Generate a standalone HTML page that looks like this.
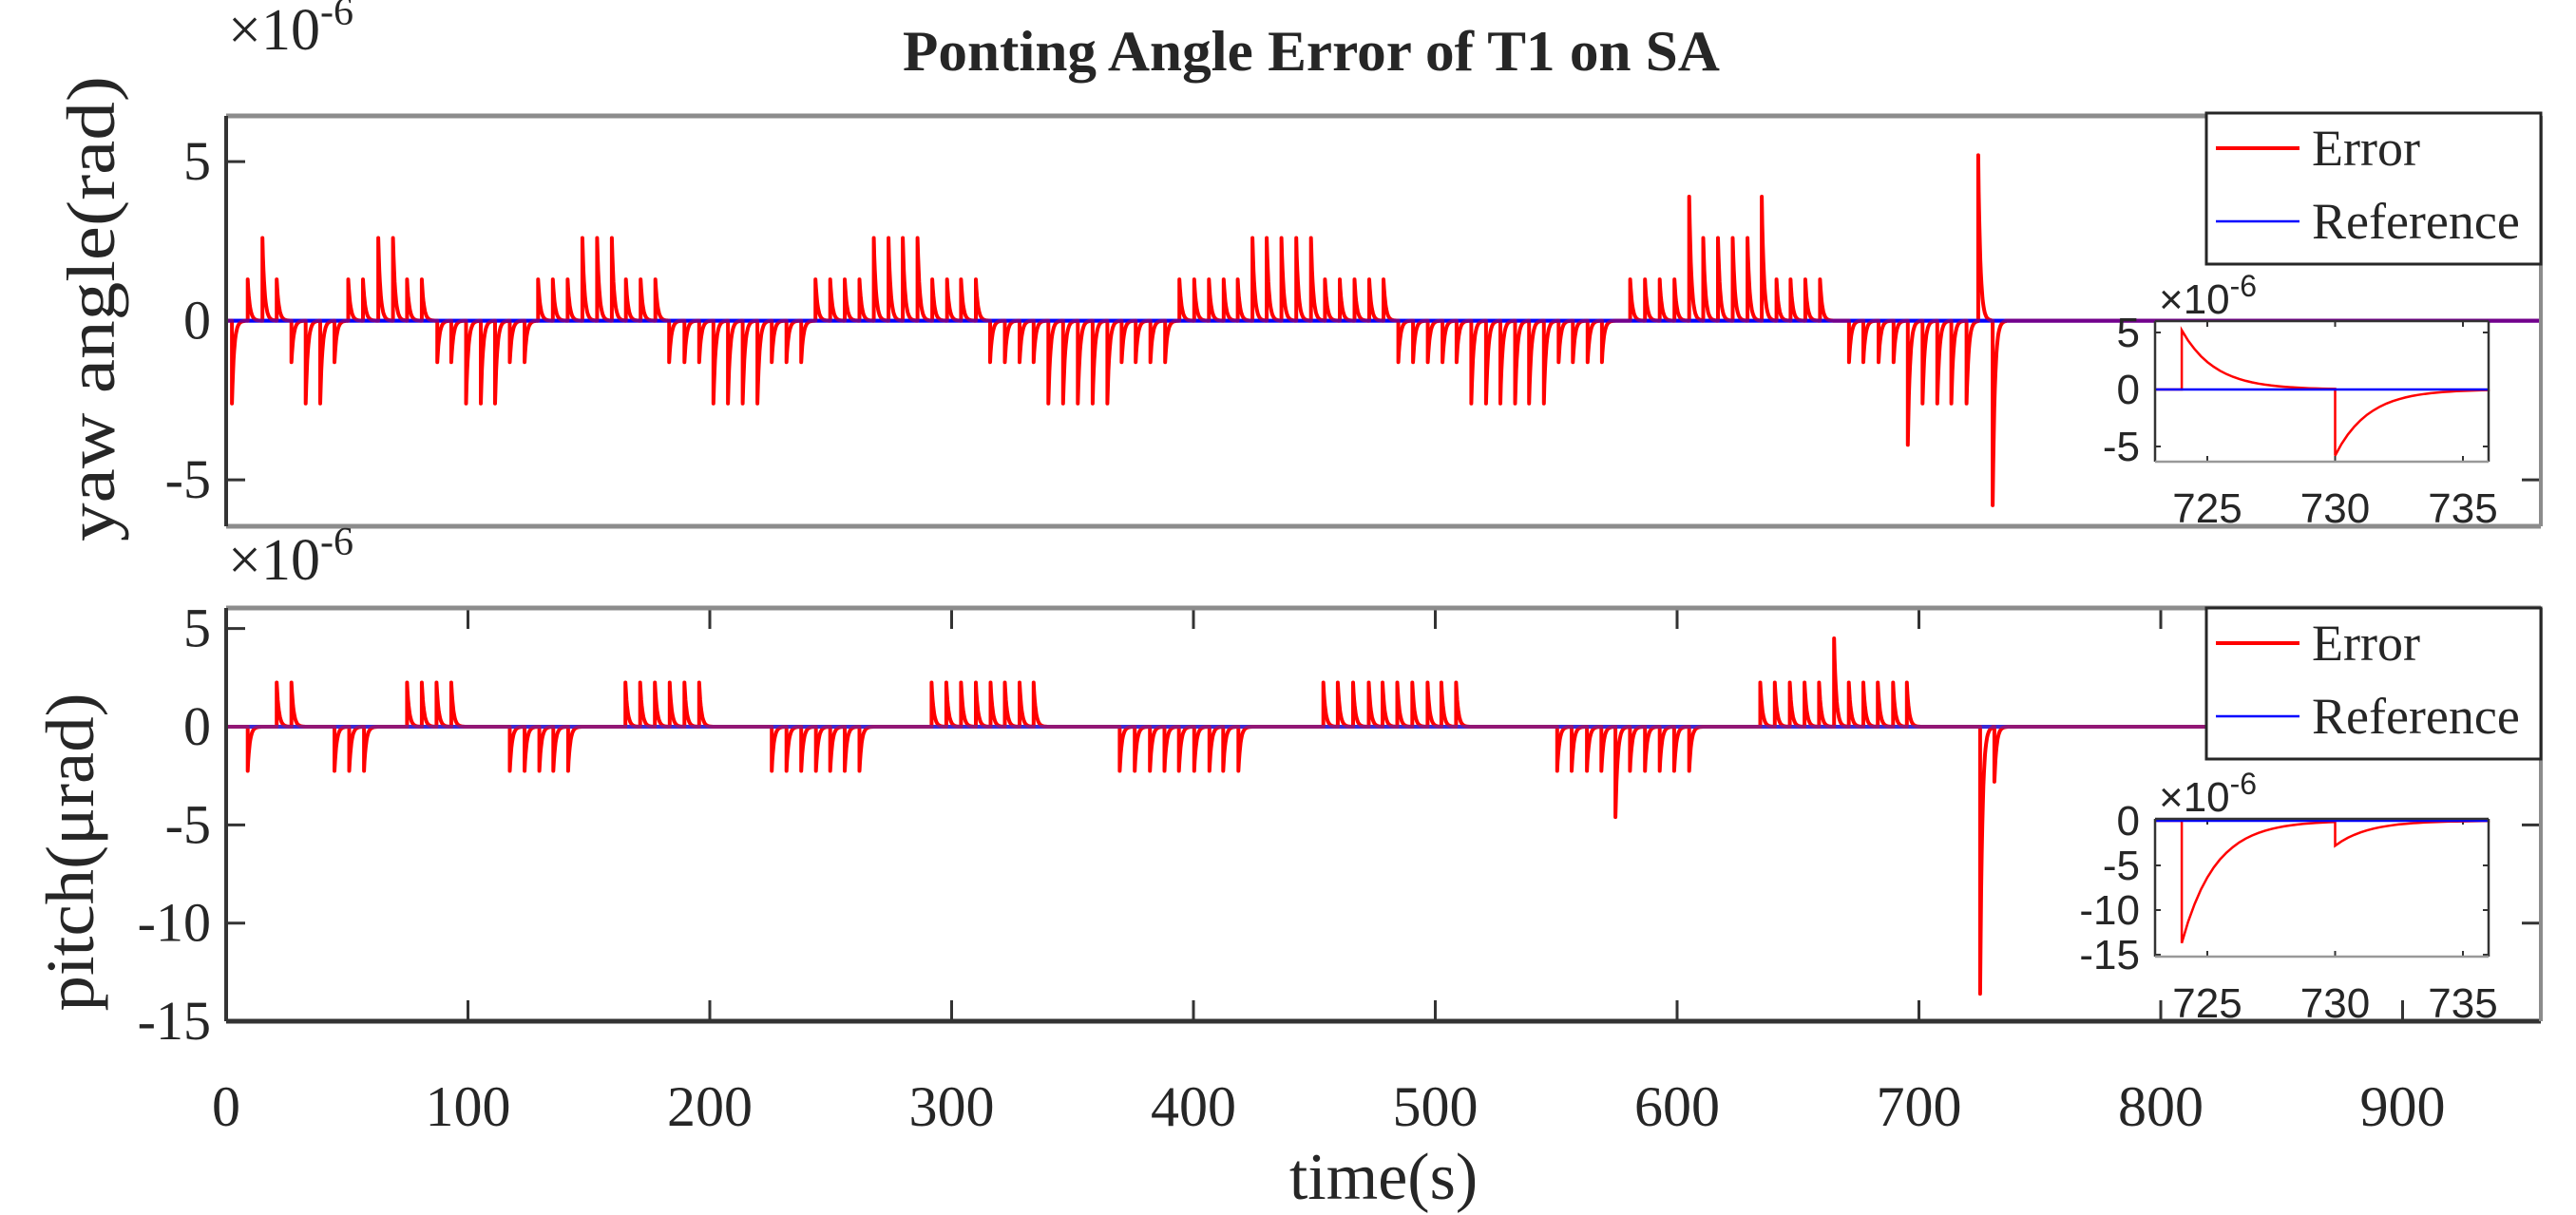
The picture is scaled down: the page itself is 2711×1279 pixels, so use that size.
<!DOCTYPE html>
<html><head><meta charset="utf-8"><style>
html,body{margin:0;padding:0;background:#fff;}
svg{display:block;}
text{font-family:"Liberation Serif",serif;fill:#262626;}
.sans{font-family:"Liberation Sans",sans-serif;}
</style></head><body>
<svg id="chart" width="2711" height="1279" viewBox="0 0 2711 1279" xmlns="http://www.w3.org/2000/svg">
<rect x="0" y="0" width="2711" height="1279" fill="#fff"/>
<text x="1380" y="74" text-anchor="middle" font-size="60" font-weight="bold" fill="#000" textLength="860" lengthAdjust="spacingAndGlyphs">Ponting Angle Error of T1 on SA</text>
<g id="layer"></g>
</svg>
<script>
// ---------- data ----------
const xTicks = [0,100,200,300,400,500,600,700,800,900];
const yawTicks = [-5,0,5];
const pitchTicks = [-15,-10,-5,0,5];
const insetXTicks = [725,730,735];
const insetYawTicks = [-5,0,5];
const insetPitchTicks = [-15,-10,-5,0];

const yawT = [2.4,8.9,15.0,20.9,27.0,32.9,38.9,44.8,50.5,56.6,62.9,69.0,74.8,80.9,87.3,93.1,99.2,105.3,111.2,117.3,123.4,
129.0,135.1,141.2,147.3,153.4,159.5,165.3,171.4,177.5,183.2,189.5,195.6,201.5,207.5,213.6,219.7,225.6,231.7,237.8,
243.7,249.8,255.8,261.9,267.8,273.9,279.8,285.9,292.0,298.1,303.9,310.0,315.9,322.0,328.1,333.9,340.0,346.1,352.2,358.3,364.4,370.3,376.1,382.2,388.3,
394.2,400.3,406.4,412.5,418.3,424.4,430.3,436.4,442.5,448.6,454.4,460.5,466.6,472.7,478.6,
484.7,490.8,496.9,503.0,508.8,514.9,521.0,526.9,533.0,538.8,544.9,551.0,556.9,563.0,568.9,
580.6,586.7,592.8,598.9,605.0,610.8,616.9,623.0,629.1,635.0,641.1,646.9,653.0,659.1,
671.1,677.0,683.3,689.5,695.4,701.5,707.6,713.4,719.7,724.5,730.5];
const yawA = [-2.6,1.3,2.6,1.3,-1.3,-2.6,-2.6,-1.3,1.3,1.3,2.6,2.6,1.3,1.3,-1.3,-1.3,-2.6,-2.6,-2.6,-1.3,-1.3,
1.3,1.3,1.3,2.6,2.6,2.6,1.3,1.3,1.3,-1.3,-1.3,-1.3,-2.6,-2.6,-2.6,-2.6,-1.3,-1.3,-1.3,
1.3,1.3,1.3,1.3,2.6,2.6,2.6,2.6,1.3,1.3,1.3,1.3,-1.3,-1.3,-1.3,-1.3,-2.6,-2.6,-2.6,-2.6,-2.6,-1.3,-1.3,-1.3,-1.3,
1.3,1.3,1.3,1.3,1.3,2.6,2.6,2.6,2.6,2.6,1.3,1.3,1.3,1.3,1.3,
-1.3,-1.3,-1.3,-1.3,-1.3,-2.6,-2.6,-2.6,-2.6,-2.6,-2.6,-1.3,-1.3,-1.3,-1.3,
1.3,1.3,1.3,1.3,3.9,2.6,2.6,2.6,2.6,3.9,1.3,1.3,1.3,1.3,
-1.3,-1.3,-1.3,-1.3,-3.9,-2.6,-2.6,-2.6,-2.6,5.2,-5.8];

const pitchT = [8.9,20.9,27.0,44.8,50.9,57.0,74.8,80.9,87.0,93.1,117.3,123.4,129.5,135.3,141.4,
165.1,171.2,177.3,183.4,189.5,195.6,225.6,231.7,237.8,243.9,249.8,255.8,261.9,
291.7,297.8,303.9,310.0,316.1,322.0,328.1,333.9,369.5,375.7,382.0,388.0,394.0,400.3,406.6,412.3,418.6,
453.7,459.7,466.0,472.5,478.2,484.3,490.5,496.8,502.5,508.6,
550.4,556.4,562.7,568.7,574.5,580.5,586.7,592.8,598.8,605.0,
634.4,640.4,646.6,652.7,658.7,664.9,671.0,677.0,683.0,689.3,695.0,725.3,731.2];
const pitchA = [-2.25,2.25,2.25,-2.25,-2.25,-2.25,2.25,2.25,2.25,2.25,-2.25,-2.25,-2.25,-2.25,-2.25,
2.25,2.25,2.25,2.25,2.25,2.25,-2.25,-2.25,-2.25,-2.25,-2.25,-2.25,-2.25,
2.25,2.25,2.25,2.25,2.25,2.25,2.25,2.25,-2.25,-2.25,-2.25,-2.25,-2.25,-2.25,-2.25,-2.25,-2.25,
2.25,2.25,2.25,2.25,2.25,2.25,2.25,2.25,2.25,2.25,
-2.25,-2.25,-2.25,-2.25,-4.6,-2.25,-2.25,-2.25,-2.25,-2.25,
2.25,2.25,2.25,2.25,2.25,4.5,2.25,2.25,2.25,2.25,2.25,-13.6,-2.8];

const insetYawT = [724.0,730.0];
const insetYawA = [5.2,-5.8];
const insetPitchT = [724.0,730.0];
const insetPitchA = [-13.7,-2.8];

// ---------- helpers ----------
const NS = "http://www.w3.org/2000/svg";
const layer = document.getElementById('layer');
function mk(tag, attrs, parent){ const e=document.createElementNS(NS,tag); for(const k in attrs) e.setAttribute(k,attrs[k]); (parent||layer).appendChild(e); return e; }
function lin(d0,d1,r0,r1){ return v => r0 + (v-d0)*(r1-r0)/(d1-d0); }

function spikePath(T,A,sx,sy,tau,tEnd,tStart){
  let d = "M"+sx(tStart).toFixed(1)+","+sy(0).toFixed(1);
  for(let i=0;i<T.length;i++){
    const t0=T[i], next = i+1<T.length?T[i+1]:tEnd;
    d += " L"+sx(t0).toFixed(1)+","+sy(0).toFixed(1)+" L"+sx(t0).toFixed(1)+","+sy(A[i]).toFixed(1);
    const span = Math.min(next-t0, 6*tau);
    const n=24;
    for(let k=1;k<=n;k++){ const s=span*k/n; d+=" L"+sx(t0+s).toFixed(1)+","+sy(A[i]*Math.exp(-s/tau)).toFixed(1); }
    d += " L"+sx(t0+span).toFixed(1)+","+sy(0).toFixed(1);
  }
  d += " L"+sx(tEnd).toFixed(1)+","+sy(0).toFixed(1);
  return d;
}

// ---------- main axes ----------
const X0=238, X1=2674;
const sx = lin(0,100,X0,X0+254.5);
const xMax = (X1-X0)/2.545;

function mainPanel(cfg){
  const g = mk('g',{});
  
  
  const sy = lin(0,1,cfg.zeroY,cfg.zeroY-cfg.perUnit);
  cfg.yt.forEach(v=>{
    const y=sy(v);
    const t1=mk('line',{x1:X0,x2:X0+20,y1:y,y2:y,stroke:'#333','stroke-width':3},g);
    
    
    mk('line',{x1:X1,x2:X1-20,y1:y,y2:y,stroke:'#333','stroke-width':3},g);
    const lb=mk('text',{x:X0-16,y:y+19,'text-anchor':'end','font-size':58},g);
    lb.textContent = v;
    
    
  });
  if(cfg.xticks){
    xTicks.forEach(v=>{
      const x=sx(v);
      mk('line',{x1:x,x2:x,y1:cfg.top,y2:cfg.top+22,stroke:'#333','stroke-width':3},g);
      const t=mk('line',{x1:x,x2:x,y1:cfg.bottom,y2:cfg.bottom-22,stroke:'#333','stroke-width':3},g);
      
      
      const lb=mk('text',{x:x,y:cfg.bottom+110,'text-anchor':'middle','font-size':60},g);
      lb.textContent=v;
      
      
    });
  }
  const ref=mk('line',{x1:X0,x2:X1,y1:sy(0),y2:sy(0),stroke:cfg.refColor,'stroke-width':cfg.refW},g);
  
  
  const p=mk('path',{d:spikePath(cfg.T,cfg.A,sx,sy,0.9,xMax,0),fill:'none',stroke:'#ff0000','stroke-width':4,'stroke-linejoin':'round'},g);
  
  
  mk('line',{x1:X0,x2:X1,y1:sy(0),y2:sy(0),stroke:cfg.refColor,'stroke-width':cfg.refW,opacity:0.55},g);
  mk('line',{x1:X0,x2:X1,y1:cfg.top,y2:cfg.top,stroke:'#8c8c8c','stroke-width':5},g);
  mk('line',{x1:X0,x2:X1,y1:cfg.bottom,y2:cfg.bottom,stroke:cfg.bottomColor,'stroke-width':5},g);
  mk('line',{x1:X0,x2:X0,y1:cfg.top,y2:cfg.bottom,stroke:'#333','stroke-width':4},g);
  mk('line',{x1:X1,x2:X1,y1:cfg.top,y2:cfg.bottom,stroke:'#8c8c8c','stroke-width':4},g);
  const ex=mk('text',{x:X0+2,y:cfg.exY,'font-size':62},g);
  ex.innerHTML='×10<tspan dy="-26" font-size="42">-6</tspan>';
  
  
  const yl=mk('text',{x:0,y:0,'text-anchor':'middle','font-size':72,textLength:cfg.ylLen,lengthAdjust:'spacingAndGlyphs',transform:`translate(${cfg.ylX},${cfg.ylY}) rotate(-90)`},g);
  yl.textContent=cfg.ylabel;
  
  
  const lg=mk('g',{},g);
  
  
  mk('rect',{x:2322,y:cfg.legY,width:352,height:159,fill:'#fff',stroke:'#262626','stroke-width':3},lg);
  const e1=mk('line',{x1:2332,x2:2420,y1:cfg.legY+37,y2:cfg.legY+37,stroke:'#ff0000','stroke-width':4},lg);
  
  
  const t1=mk('text',{x:2433,y:cfg.legY+55,'font-size':54},lg); t1.textContent='Error';
  
  
  const e2=mk('line',{x1:2332,x2:2420,y1:cfg.legY+114,y2:cfg.legY+114,stroke:'#0000ff','stroke-width':2.5},lg);
  
  
  const t2=mk('text',{x:2433,y:cfg.legY+132,'font-size':54},lg); t2.textContent='Reference';
  
  
  return g;
}

mainPanel({name:'yaw-panel',top:122,bottom:554,zeroY:337.6,perUnit:33.5,yt:yawTicks,xticks:false,T:yawT,A:yawA,
  refColor:'#0000ff',refW:4,bottomColor:'#8c8c8c',ylabel:'yaw angle(rad)',ylX:120,ylY:325,ylLen:490,legY:119,exY:52});
mainPanel({name:'pitch-panel',top:640,bottom:1075,zeroY:765,perUnit:20.67,yt:pitchTicks,xticks:true,T:pitchT,A:pitchA,
  refColor:'#3a2ad6',refW:4,bottomColor:'#333',ylabel:'pitch(μrad)',ylX:98,ylY:897,ylLen:335,legY:640,exY:610});

const xt=mk('text',{x:1456,y:1262,'text-anchor':'middle','font-size':70});
xt.textContent='time(s)';



// ---------- insets ----------
const IX0=2268, IX1=2619;
const isx = lin(725,730,2323,2457.5);
function inset(cfg){
  const g=mk('g',{});
  
  
  const sy=lin(0,1,cfg.zeroY,cfg.zeroY-cfg.perUnit);
  mk('rect',{x:IX0,y:cfg.top,width:IX1-IX0,height:cfg.bottom-cfg.top,fill:'#fff'},g);
  cfg.yt.forEach(v=>{
    const y=sy(v);
    mk('line',{x1:IX0,x2:IX0+6,y1:y,y2:y,stroke:'#333','stroke-width':2},g);
    mk('line',{x1:IX1,x2:IX1-6,y1:y,y2:y,stroke:'#333','stroke-width':2},g);
    const lb=mk('text',{x:IX0-16,y:y+15,'text-anchor':'end','font-size':44,class:'sans'},g);
    lb.textContent=v;
    
    
  });
  insetXTicks.forEach(v=>{
    const x=isx(v);
    mk('line',{x1:x,x2:x,y1:cfg.bottom,y2:cfg.bottom-6,stroke:'#333','stroke-width':2},g);
    mk('line',{x1:x,x2:x,y1:cfg.top,y2:cfg.top+6,stroke:'#333','stroke-width':2},g);
    const lb=mk('text',{x:x,y:cfg.bottom+64,'text-anchor':'middle','font-size':44,class:'sans'},g);
    lb.textContent=v;
    
    
  });
  const p=mk('path',{d:spikePath(cfg.T,cfg.A,isx,sy,1.3,736,723),fill:'none',stroke:'#ff0000','stroke-width':2.5},g);
  
  
  const r=mk('line',{x1:IX0,x2:IX1,y1:sy(0),y2:sy(0),stroke:'#0000ff','stroke-width':2.5},g);
  
  
  mk('line',{x1:IX0,x2:IX0,y1:cfg.top,y2:cfg.bottom,stroke:'#333','stroke-width':2.5},g);
  mk('line',{x1:IX1,x2:IX1,y1:cfg.top,y2:cfg.bottom,stroke:'#333','stroke-width':2.5},g);
  mk('line',{x1:IX0,x2:IX1,y1:cfg.top,y2:cfg.top,stroke:'#333','stroke-width':2.5},g);
  mk('line',{x1:IX0,x2:IX1,y1:cfg.bottom,y2:cfg.bottom,stroke:'#999','stroke-width':2.5},g);
  const ex=mk('text',{x:IX0+4,y:cfg.top-8,'font-size':44,class:'sans'},g);
  ex.innerHTML='×10<tspan dy="-18" font-size="32">-6</tspan>';
  
  
}
inset({name:'yaw-inset',top:338,bottom:486,zeroY:410,perUnit:12,yt:insetYawTicks,T:insetYawT,A:insetYawA});
inset({name:'pitch-inset',top:862,bottom:1007,zeroY:864,perUnit:9.4,yt:insetPitchTicks,T:insetPitchT,A:insetPitchA});
</script>
</body></html>
